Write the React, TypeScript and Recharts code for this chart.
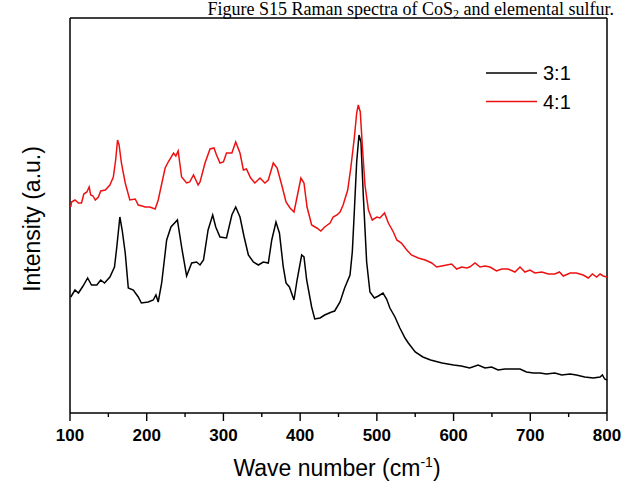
import React from "react";
import { LineChart, Line, XAxis, YAxis, ReferenceLine } from "recharts";

const wave31 = [101, 106.5, 111, 117, 123, 128, 135, 140, 145, 152, 158, 161, 165, 168, 172, 176, 182.5, 189, 193, 202, 208.5, 212, 215, 219.5, 226, 231.6, 240, 245.5, 252, 258.6, 265, 269.5, 274, 280, 286, 290, 295.5, 304, 311, 316, 321.6, 327, 332.5, 339, 345.5, 352, 358.5, 363, 368.5, 373, 378, 381.6, 386, 392, 396, 402, 405, 408.5, 415, 419, 426, 432, 441, 445, 452, 458, 465, 468, 470.6, 473.7, 476.7, 479.3, 482.3, 486.7, 491, 496.7, 502, 508, 512.7, 517, 523.6, 530, 536.7, 541, 550, 560, 570, 585, 600, 610, 621, 632, 641, 649.6, 658, 667, 678, 686.6, 695, 704, 712.6, 721, 732, 741, 752, 760, 771, 782, 791, 794, 797, 800];
const int31 = [116, 123, 120, 127, 135, 128, 128, 133, 130, 136, 146, 166, 196, 183, 160, 125, 123, 116, 110, 111, 113, 118, 111, 130, 173, 186, 193, 166, 137, 150, 151, 148, 153, 183, 198, 186, 176, 175, 198, 206, 196, 176, 158, 151, 148, 151, 150, 173, 191, 180, 146, 130, 126, 113, 133, 158, 156, 133, 106, 94, 95, 98, 101, 102, 111, 125, 138, 161, 201, 251, 278, 271, 218, 151, 121, 115, 117, 120, 114, 105, 96, 85, 75, 70, 61, 56, 53, 50, 48, 47, 45, 48, 45, 46, 43, 44, 44, 44, 41, 40, 40, 39, 40, 38, 39, 38, 36, 35, 36, 38, 34, 33];

const wave41 = [101, 102, 106.5, 111, 115, 118, 122, 125, 127, 130, 133, 137, 140, 146, 152, 156.5, 159.5, 162, 164, 167, 172, 178, 185, 189, 194, 198, 204, 211, 215, 224, 228, 235, 238, 241, 245.5, 252, 256, 261, 267, 269.5, 276, 282.5, 287.7, 291, 295.5, 300, 304, 311, 316, 321.6, 326, 330, 335.5, 341, 347.7, 354, 358.5, 365, 370, 376, 381.6, 386.8, 392, 396, 401, 405, 409, 415, 421.6, 427, 432, 439, 443, 448, 452, 456, 462, 466, 470.6, 473.7, 475.8, 478.4, 481, 484.5, 489, 494, 500, 504, 510, 515, 521.5, 526, 532, 539, 545, 554, 563, 571.5, 578, 584.5, 597.5, 604, 610.6, 617, 621, 628, 634.5, 641, 647.5, 656, 662.7, 671, 680, 686.6, 693, 699.6, 706, 715, 723.5, 732, 738, 743, 752, 760, 769, 775.6, 781, 786.5, 791, 795, 800];
const int41 = [206, 211, 213, 210, 210, 219, 221, 226, 218, 217, 213, 216, 222, 223, 228, 236, 253, 273, 268, 250, 230, 213, 214, 208, 207, 206, 206, 204, 213, 245, 251, 260, 257, 262, 236, 230, 231, 238, 228, 231, 250, 264, 265, 258, 250, 251, 260, 260, 271, 260, 243, 244, 235, 230, 235, 230, 233, 250, 245, 228, 211, 205, 201, 216, 235, 230, 206, 188, 185, 182, 186, 190, 196, 198, 201, 208, 223, 245, 275, 300, 308, 301, 268, 228, 203, 193, 196, 195, 200, 190, 181, 173, 170, 163, 158, 155, 153, 150, 146, 147, 149, 144, 146, 145, 146, 150, 146, 147, 146, 142, 144, 144, 141, 146, 141, 143, 140, 141, 139, 139, 141, 137, 140, 140, 138, 135, 139, 136, 139, 137, 136];

const xTicks = [100, 150, 200, 250, 300, 350, 400, 450, 500, 550, 600, 650, 700, 750, 800];
const xDomain = [100, 800];
const yDomain = [0, 395];
const seriesNames = ["3:1", "4:1"];
const seriesColors = ["#000000", "#ee1111"];
const titleText = "Figure S15  Raman spectra of CoS";

const data31 = wave31.map((w, i) => ({ w, v: int31[i] }));
const data41 = wave41.map((w, i) => ({ w, v: int41[i] }));

const XTick = (props: any) => {
  const { x, y, payload } = props;
  const v = payload.value;
  const major = v % 100 === 0;
  return (
    <g>
      <line x1={x} x2={x} y1={y} y2={y + (major ? 8 : 4)} stroke="#000" strokeWidth={1.4} />
      {major && (
        <text x={x} y={y + 28} textAnchor="middle" fontWeight="bold" fontSize={17} fontFamily="Liberation Sans, Arial, sans-serif" fill="#000">
          {v}
        </text>
      )}
    </g>
  );
};

export default function App() {
  const font = "Liberation Sans, Arial, sans-serif";
  return (
    <div style={{ position: "absolute", left: 0, top: 0, width: 623, height: 483, background: "#fff" }}>
      <svg style={{ position: "absolute", left: 0, top: 0 }} width={623} height={483}>
        <text x={614} y={15} textAnchor="end" fontSize={18} fontFamily="Liberation Serif, Times New Roman, serif" fill="#000">
          {titleText}
          <tspan fontSize={12} dy={3}>2</tspan>
          <tspan dy={-3}> and elemental sulfur.</tspan>
        </text>
        <text x={32} y={219} transform="rotate(-90 32 219)" textAnchor="middle" dominantBaseline="central" fontSize={23} fontFamily={font} fill="#000">
          Intensity (a.u.)
        </text>
        <text x={337} y={476} textAnchor="middle" fontSize={23} fontFamily={font} fill="#000">
          Wave number (cm<tspan fontSize={14} dy={-9}>-1</tspan><tspan dy={9}>)</tspan>
        </text>
        {seriesNames.map((n, i) => (
          <g key={n}>
            <line x1={486} x2={537} y1={73 + i * 28.5} y2={73 + i * 28.5} stroke={seriesColors[i]} strokeWidth={1.6} />
            <text x={543} y={80 + i * 28.5} fontSize={20} fontFamily={font} fill="#000">{n}</text>
          </g>
        ))}
      </svg>
      <div style={{ position: "absolute", left: 0, top: 0 }}>
        <LineChart width={623} height={483} margin={{ top: 18, right: 16, bottom: 40, left: 70 }}>
          <XAxis
            dataKey="w"
            type="number"
            domain={xDomain}
            ticks={xTicks}
            allowDataOverflow
            height={30}
            tickSize={0}
            tickMargin={0}
            tickLine={false}
            tick={<XTick />}
            axisLine={{ stroke: "#000", strokeWidth: 1.5 }}
            interval={0}
          />
          <YAxis type="number" domain={yDomain} allowDataOverflow width={0} hide />
          <ReferenceLine x={100} stroke="#000" strokeWidth={1.5} ifOverflow="visible" />
          <ReferenceLine x={800} stroke="#000" strokeWidth={1.5} ifOverflow="visible" />
          <ReferenceLine y={395} stroke="#000" strokeWidth={1.5} ifOverflow="visible" />
          <Line data={data31} dataKey="v" type="linear" stroke={seriesColors[0]} strokeWidth={1.5} dot={false} isAnimationActive={false} />
          <Line data={data41} dataKey="v" type="linear" stroke={seriesColors[1]} strokeWidth={1.5} dot={false} isAnimationActive={false} />
        </LineChart>
      </div>
    </div>
  );
}
